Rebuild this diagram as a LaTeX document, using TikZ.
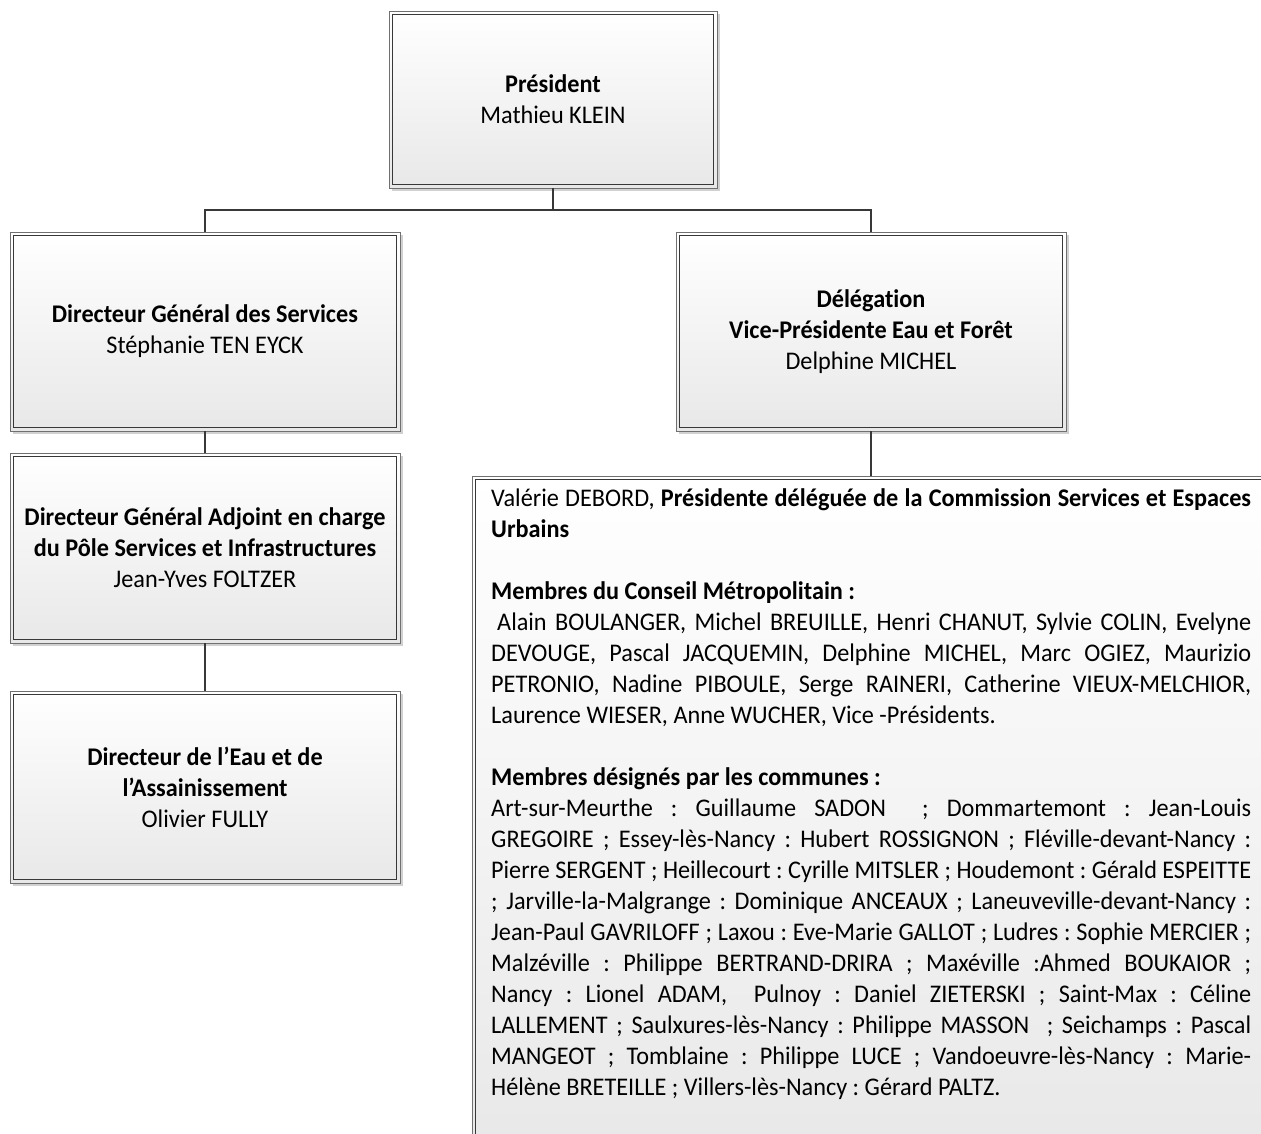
\documentclass[tikz,border=0pt]{standalone}
\usepackage{fontspec}
\usepackage{graphicx}
\setmainfont{Carlito}[FakeStretch=0.955, Ligatures=NoCommon]
\usetikzlibrary{shadows}
\frenchspacing
\newlength\jw \setlength\jw{760pt}
\newsavebox\jbox
\newcommand\jl[1]{\sbox\jbox{#1}\ifdim\wd\jbox>\jw\resizebox{\jw}{\height}{#1}\else\makebox[\jw][s]{#1}\fi}
\newcommand\mainsize{\fontsize{25.4}{31}\selectfont\frenchspacing}
\definecolor{linegray}{HTML}{383838}
\definecolor{outergray}{HTML}{707070}
\tikzset{
  orgbox/.style={rectangle, inner sep=0pt, align=center, font=\mainsize,
    draw=outergray, line width=0.9pt, top color=white, bottom color=black!9,
    drop shadow={shadow xshift=3pt, shadow yshift=-3pt, fill=black!18, opacity=1}},
  innerframe/.style={draw=linegray, line width=1pt},
  conn/.style={draw=linegray, line width=2pt},
  ln/.style={anchor=base west, inner sep=0pt, font=\mainsize}
}
\newcommand\frameinside[1]{\draw[innerframe] ([shift={(4pt,-4pt)}]#1.north west) rectangle ([shift={(-4pt,4pt)}]#1.south east);}
\begin{document}
\begin{tikzpicture}[x=1pt,y=-1pt]
\useasboundingbox (0,0) rectangle (1261,1133);

% boxes
\node[orgbox, minimum width=328pt, minimum height=177pt] (pres) at (553,99.5)
  {\textbf{Président}\\Mathieu KLEIN};
\frameinside{pres}
\node[orgbox, minimum width=390pt, minimum height=199pt] (dgs) at (205,331.5)
  {\textbf{Directeur Général des Services}\\Stéphanie TEN EYCK};
\frameinside{dgs}
\node[orgbox, minimum width=390pt, minimum height=199pt] (deleg) at (871,331.5)
  {\textbf{Délégation}\\\textbf{Vice-Présidente Eau et Forêt}\\Delphine MICHEL};
\frameinside{deleg}
\node[orgbox, minimum width=390pt, minimum height=190pt] (dga) at (205,548)
  {\textbf{Directeur Général Adjoint en charge}\\\textbf{du Pôle Services et Infrastructures}\\Jean-Yves FOLTZER};
\frameinside{dga}
\node[orgbox, minimum width=390pt, minimum height=192pt] (dir) at (205,787)
  {\textbf{Directeur de l’Eau et de}\\\textbf{l’Assainissement}\\Olivier FULLY};
\frameinside{dir}
\node[orgbox, minimum width=810pt, minimum height=680pt] (big) at (877,816) {};
\frameinside{big}

% connectors
\draw[conn] (pres.south) -- ++(0,22) -| (dgs.north);
\draw[conn] (pres.south) -- ++(0,22) -| (deleg.north);
\draw[conn] (dgs.south) -- (dga.north);
\draw[conn] (dga.south) -- (dir.north);
\draw[conn] (deleg.south) -- (deleg.south |- big.north);

% text of the large box
\node[ln] (t0) at (491,506) {\jl{Valérie DEBORD, \textbf{Présidente déléguée de la Commission Services et Espaces}}};
\node[ln] (t1) at (491,537) {\textbf{Urbains}};
\node[ln] (t3) at (491,599) {\textbf{Membres du Conseil Métropolitain :}};
\node[ln] (t4) at (491,630) {\jl{\kern6pt Alain BOULANGER, Michel BREUILLE, Henri CHANUT, Sylvie COLIN, Evelyne}};
\node[ln] (t5) at (491,661) {\jl{DEVOUGE, Pascal JACQUEMIN, Delphine MICHEL, Marc OGIEZ, Maurizio}};
\node[ln] (t6) at (491,692) {\jl{PETRONIO, Nadine PIBOULE, Serge RAINERI, Catherine VIEUX-MELCHIOR,}};
\node[ln] (t7) at (491,723) {Laurence WIESER, Anne WUCHER, Vice -Présidents.};
\node[ln] (t9) at (491,785) {\textbf{Membres désignés par les communes :}};
\node[ln] (t10) at (491,816) {\jl{Art-sur-Meurthe : Guillaume SADON\ \ ; Dommartemont : Jean-Louis}};
\node[ln] (t11) at (491,847) {\jl{GREGOIRE ; Essey-lès-Nancy : Hubert ROSSIGNON ; Fléville-devant-Nancy :}};
\node[ln] (t12) at (491,878) {\jl{Pierre SERGENT ; Heillecourt : Cyrille MITSLER ; Houdemont : Gérald ESPEITTE}};
\node[ln] (t13) at (491,909) {\jl{; Jarville-la-Malgrange : Dominique ANCEAUX ; Laneuveville-devant-Nancy :}};
\node[ln] (t14) at (491,940) {\jl{Jean-Paul GAVRILOFF ; Laxou : Eve-Marie GALLOT ; Ludres : Sophie MERCIER ;}};
\node[ln] (t15) at (491,971) {\jl{Malzéville : Philippe BERTRAND-DRIRA ; Maxéville :Ahmed BOUKAIOR ;}};
\node[ln] (t16) at (491,1002) {\jl{Nancy : Lionel ADAM,\ \ Pulnoy : Daniel ZIETERSKI ; Saint-Max : Céline}};
\node[ln] (t17) at (491,1033) {\jl{LALLEMENT ; Saulxures-lès-Nancy : Philippe MASSON\ \ ; Seichamps : Pascal}};
\node[ln] (t18) at (491,1064) {\jl{MANGEOT ; Tomblaine : Philippe LUCE ; Vandoeuvre-lès-Nancy : Marie-}};
\node[ln] (t19) at (491,1095) {Hélène BRETEILLE ; Villers-lès-Nancy : Gérard PALTZ.};
\end{tikzpicture}
\end{document}
